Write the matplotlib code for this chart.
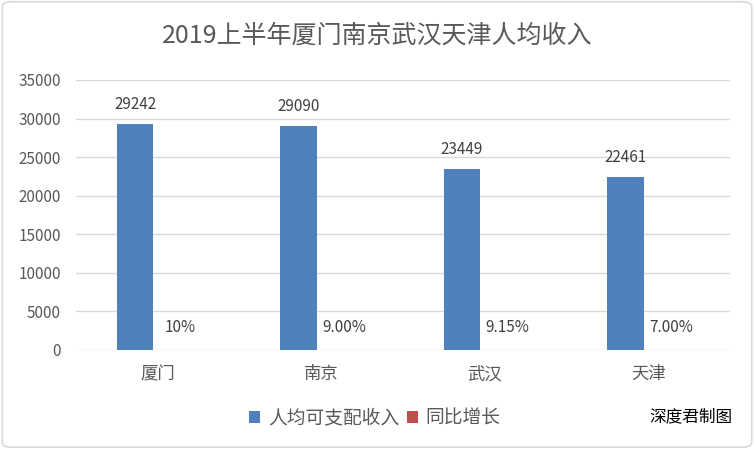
import matplotlib.pyplot as plt
from matplotlib.patches import FancyBboxPatch
import numpy as np

plt.rcParams['font.family'] = ['Noto Sans CJK SC', 'DejaVu Sans']

cities = ["厦门", "南京", "武汉", "天津"]
income = [29242, 29090, 23449, 22461]
growth = [0.10, 0.09, 0.0915, 0.07]
growth_labels = ["10%", "9.00%", "9.15%", "7.00%"]
yticks = [0, 5000, 10000, 15000, 20000, 25000, 30000, 35000]

blue = "#4F81BD"
red = "#C0504D"
grey_txt = "#595959"

fig = plt.figure(figsize=(7.54, 4.49), dpi=100)
border = FancyBboxPatch((0.003, 0.004), 0.994, 0.992, boxstyle="round,pad=0,rounding_size=0.012",
                        transform=fig.transFigure, fill=False, edgecolor="#D9D9D9", lw=1.2)
fig.patches.append(border)

ax = fig.add_axes([76 / 754, 99 / 449, 654 / 754, 270 / 449])
x = np.arange(len(cities))
w = 0.226
off = 0.139
b1 = ax.bar(x - off, income, w, color=blue, label="人均可支配收入", zorder=3)
b2 = ax.bar(x + off, growth, w, color=red, label="同比增长", zorder=3)

for rect, v in zip(b1, income):
    ax.annotate(str(v), (rect.get_x() + rect.get_width() / 2, v), xytext=(0, 14),
                textcoords="offset points", ha="center", va="center", fontsize=11, color="#404040")
for rect, lab in zip(b2, growth_labels):
    ax.annotate(lab, (rect.get_x() + rect.get_width() / 2, rect.get_height()), xytext=(0, 16.5),
                textcoords="offset points", ha="center", va="center", fontsize=11, color="#404040")

ax.set_ylim(0, 35000)
ax.set_xlim(-0.5, 3.5)
ax.set_yticks(yticks)
ax.set_yticklabels([str(t) for t in yticks], fontsize=11, color=grey_txt)
ax.set_xticks(x)
ax.set_xticklabels(cities, fontsize=12.5, color=grey_txt)
ax.tick_params(axis="both", length=0)
ax.tick_params(axis="y", pad=11)
ax.tick_params(axis="x", pad=11)
ax.grid(axis="y", color="#D9D9D9", lw=1, zorder=0)
for s in ax.spines.values():
    s.set_visible(False)

fig.text(0.5, 0.92, "2019上半年厦门南京武汉天津人均收入", ha="center", va="center",
         fontsize=18, color=grey_txt)

fig.legend(handles=[b1, b2], loc="center", bbox_to_anchor=(0.497, 0.069), ncol=2, frameon=False,
           fontsize=13.5, labelcolor=grey_txt, handlelength=0.6, handleheight=0.6,
           handletextpad=0.4, columnspacing=0.4)

fig.text(0.971, 0.071, "深度君制图", ha="right", va="center", fontsize=12, color="black")

fig.savefig("out.png", dpi=100)
